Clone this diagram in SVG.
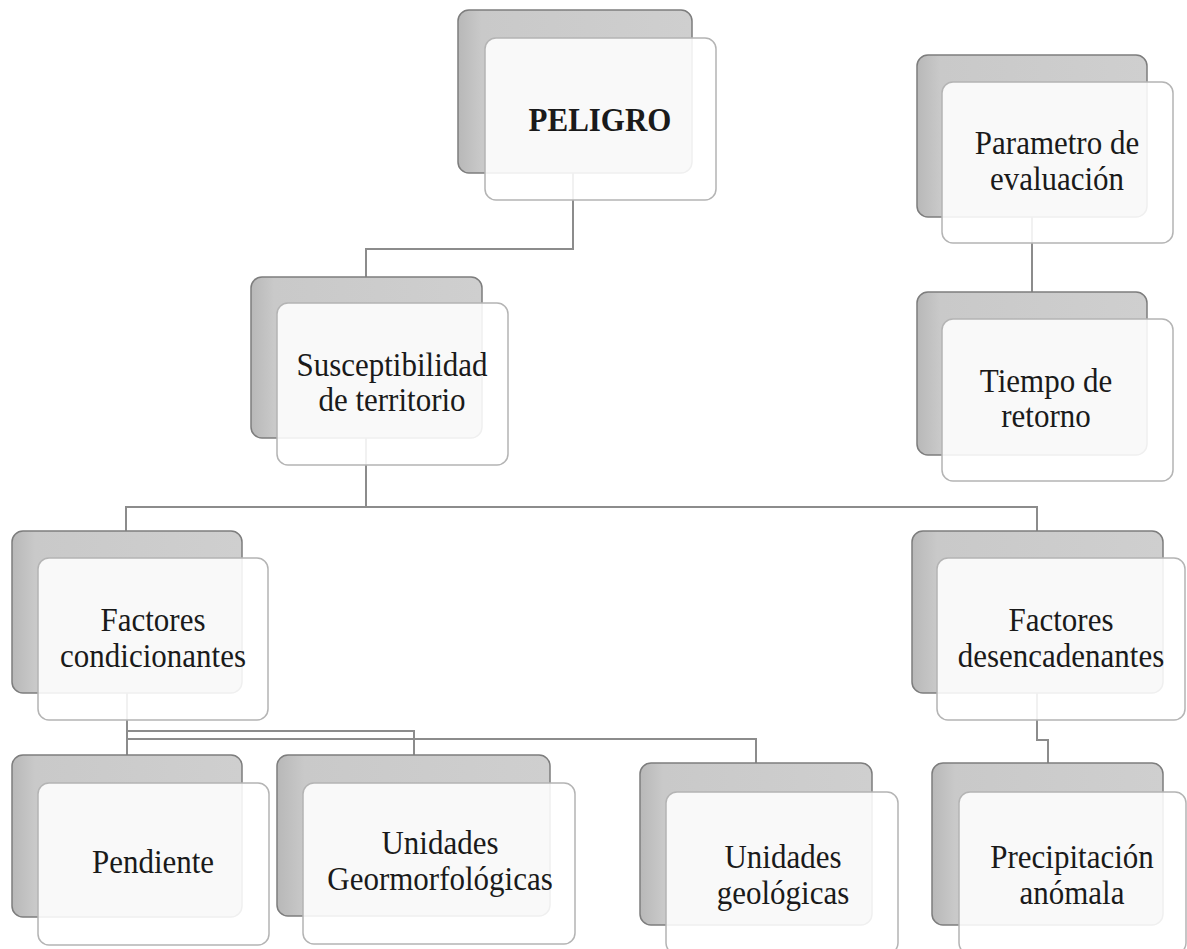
<svg xmlns="http://www.w3.org/2000/svg" width="1187" height="949" viewBox="0 0 1187 949">
  <defs>
    <linearGradient id="backFill" x1="0" y1="0" x2="1" y2="0">
      <stop offset="0" stop-color="#b8b8b8"/>
      <stop offset="0.1" stop-color="#c9c9c9"/>
      <stop offset="1" stop-color="#cfcfcf"/>
    </linearGradient>
    <style>
      .back { fill: url(#backFill); stroke: #7d7d7d; stroke-width: 1.5; }
      .front { fill: #ffffff; fill-opacity: 0.88; stroke: #b4b4b4; stroke-width: 1.5; }
      .link { fill: none; stroke: #8c8c8c; stroke-width: 2; }
      .lbl { font-family: "Liberation Serif", "Times New Roman", serif; font-size: 31px; fill: #1a1a1a; text-anchor: middle; }
      .bold { font-weight: bold; }
    </style>
  </defs>

  <rect width="1187" height="949" fill="#ffffff"/>

  <!-- connectors (drawn under the cards) -->
  <g id="connectors">
    <path class="link" d="M573,173 V249 H366 V277"/>
    <path class="link" d="M366,438 V507 H126 V531"/>
    <path class="link" d="M366,507 H1037 V531"/>
    <path class="link" d="M1032,217 V292"/>
    <path class="link" d="M127,693 V755"/>
    <path class="link" d="M127,731 H414 V755"/>
    <path class="link" d="M127,739 H756 V763"/>
    <path class="link" d="M1037,693 V740 H1048 V763"/>
  </g>

  <g id="peligro">
    <rect class="back" x="458" y="10" width="234" height="163" rx="11"/>
    <rect class="front" x="485" y="38" width="231" height="162" rx="11"/>
    <text class="lbl bold" transform="translate(600,131) scale(1,1.12)">PELIGRO</text>
  </g>

  <g id="parametro">
    <rect class="back" x="917" y="55" width="230" height="162" rx="11"/>
    <rect class="front" x="942" y="82" width="231" height="161" rx="11"/>
    <text class="lbl" transform="translate(1057,154) scale(1,1.12)">Parametro de</text>
    <text class="lbl" transform="translate(1057,190) scale(1,1.12)">evaluación</text>
  </g>

  <g id="susceptibilidad">
    <rect class="back" x="251" y="277" width="231" height="161" rx="11"/>
    <rect class="front" x="277" y="303" width="231" height="162" rx="11"/>
    <text class="lbl" transform="translate(392,376) scale(1,1.12)">Susceptibilidad</text>
    <text class="lbl" transform="translate(392,411) scale(1,1.12)">de territorio</text>
  </g>

  <g id="tiempo">
    <rect class="back" x="917" y="292" width="230" height="163" rx="11"/>
    <rect class="front" x="942" y="319" width="231" height="162" rx="11"/>
    <text class="lbl" transform="translate(1046,392) scale(1,1.12)">Tiempo de</text>
    <text class="lbl" transform="translate(1046,427) scale(1,1.12)">retorno</text>
  </g>

  <g id="condicionantes">
    <rect class="back" x="12" y="531" width="230" height="162" rx="11"/>
    <rect class="front" x="38" y="558" width="230" height="162" rx="11"/>
    <text class="lbl" transform="translate(153,631) scale(1,1.12)">Factores</text>
    <text class="lbl" transform="translate(153,667) scale(1,1.12)">condicionantes</text>
  </g>

  <g id="desencadenantes">
    <rect class="back" x="912" y="531" width="251" height="162" rx="11"/>
    <rect class="front" x="937" y="558" width="248" height="162" rx="11"/>
    <text class="lbl" transform="translate(1061,631) scale(1,1.12)">Factores</text>
    <text class="lbl" transform="translate(1061,667) scale(1,1.12)">desencadenantes</text>
  </g>

  <g id="pendiente">
    <rect class="back" x="12" y="755" width="230" height="162" rx="11"/>
    <rect class="front" x="38" y="783" width="231" height="162" rx="11"/>
    <text class="lbl" transform="translate(153,873) scale(1,1.12)">Pendiente</text>
  </g>

  <g id="geomorfologicas">
    <rect class="back" x="277" y="755" width="273" height="161" rx="11"/>
    <rect class="front" x="303" y="783" width="272" height="161" rx="11"/>
    <text class="lbl" transform="translate(440,854) scale(1,1.12)">Unidades</text>
    <text class="lbl" transform="translate(440,890) scale(1,1.12)">Geormorfológicas</text>
  </g>

  <g id="geologicas">
    <rect class="back" x="640" y="763" width="232" height="162" rx="11"/>
    <rect class="front" x="666" y="792" width="232" height="162" rx="11"/>
    <text class="lbl" transform="translate(783,868) scale(1,1.12)">Unidades</text>
    <text class="lbl" transform="translate(783,904) scale(1,1.12)">geológicas</text>
  </g>

  <g id="precipitacion">
    <rect class="back" x="932" y="763" width="231" height="162" rx="11"/>
    <rect class="front" x="959" y="792" width="227" height="162" rx="11"/>
    <text class="lbl" transform="translate(1072,868) scale(1,1.12)">Precipitación</text>
    <text class="lbl" transform="translate(1072,904) scale(1,1.12)">anómala</text>
  </g>
</svg>
